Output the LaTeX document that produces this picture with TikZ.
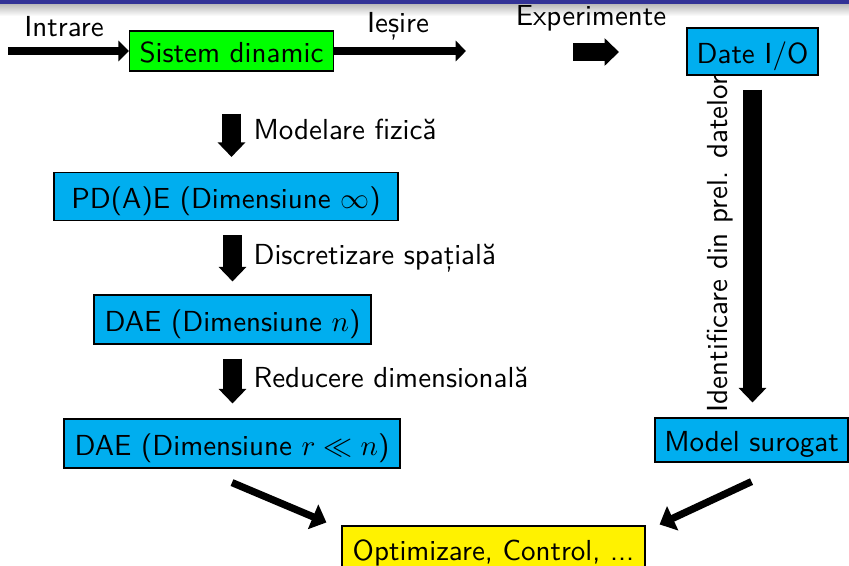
\documentclass[tikz,border=0pt]{standalone}
\usepackage{fontspec}
\usetikzlibrary{arrows.meta,calc}

\definecolor{slidebar}{RGB}{50,50,150}
\definecolor{boxgreen}{RGB}{0,255,0}
\definecolor{boxcyan}{RGB}{0,174,239}
\definecolor{boxyellow}{RGB}{255,242,0}
\newcommand{\pxu}{0.345pt}

\tikzstyle{stage}=[draw,thin,inner sep=0pt,font=\sffamily,text height=8pt,text depth=0pt]
\tikzstyle{lbl}=[inner sep=0pt,font=\sffamily]
\tikzstyle{fat}=[draw,line width=6.5pt,-{Triangle[width=9.3pt,length=5pt]}]
\tikzstyle{flow}=[draw,line width=2.7pt,-{Triangle[width=7pt,length=3.6pt]}]
\tikzstyle{merge}=[draw,line width=2.5pt,-{Triangle[width=9pt,length=5pt]}]

\begin{document}
\begin{tikzpicture}[x=\pxu, y=-\pxu]
	\useasboundingbox (0,0) rectangle (849,565);
	\fill[slidebar] (0,0) rectangle (849,4);
	\shade[top color=gray!55, bottom color=white] (0,4) rectangle (849,16);

	\node [stage, fill=boxgreen, minimum width=204*\pxu, minimum height=40*\pxu] (sistem) at (231.5,51) {Sistem dinamic};
	\node [stage, fill=boxcyan, minimum width=131*\pxu, minimum height=47*\pxu] (date) at (752.5,51.5) {Date I/O};
	\node [stage, fill=boxcyan, minimum width=344*\pxu, minimum height=48*\pxu] (pde) at (226,196.5) {PD(A)E (Dimensiune $\infty$)};
	\node [stage, fill=boxcyan, minimum width=277*\pxu, minimum height=49*\pxu] (daen) at (232.5,319.5) {DAE (Dimensiune $n$)};
	\node [stage, fill=boxcyan, minimum width=336*\pxu, minimum height=49*\pxu] (daer) at (232,443.5) {DAE (Dimensiune $r \ll n$)};
	\node [stage, fill=boxcyan, minimum width=193*\pxu, minimum height=44*\pxu] (surogat) at (751.5,440) {Model surogat};
	\node [stage, fill=boxyellow, minimum width=303*\pxu, minimum height=46*\pxu] (optim) at (493.5,549) {Optimizare, Control, ...};

	\node [lbl, anchor=base] (intrare) at (64,36) {Intrare};
	\node [lbl, anchor=base] (iesire) at (398,32) {Ieșire};
	\node [lbl, anchor=base] (exper) at (591,25) {Experimente};
	\node [lbl, anchor=base west] (modelare) at (253,139) {Modelare fizică};
	\node [lbl, anchor=base west] (discret) at (253,264) {Discretizare spațială};
	\node [lbl, anchor=base west] (reducere) at (253,387) {Reducere dimensională};
	\node [lbl, rotate=90] (ident) at (720,244) {Identificare din prel. datelor};

	\coordinate (inL) at (8,51);
	\coordinate (outR) at (466,51);
	\coordinate (expL) at (573,52);
	\coordinate (expR) at (619,52);

	\draw[flow] (inL) -- (sistem.west);
	\draw[flow] (sistem.east) -- (outR);
	\draw[fat] (expL) -- (expR);
	\draw[fat, shorten <=14*\pxu, shorten >=15*\pxu] (date.south) -- (date.south |- surogat.north);
	\draw[fat, shorten <=42*\pxu, shorten >=15*\pxu] (sistem.south) -- (sistem.south |- pde.north);
	\draw[fat, shorten <=14*\pxu, shorten >=13*\pxu] (daen.north |- pde.south) -- (daen.north);
	\draw[fat, shorten <=14*\pxu, shorten >=15*\pxu] (daen.south) -- (daen.south |- daer.north);
	\draw[merge] ($(daer.south)+(0,14)$) -- ($(optim.north west)+(-15,-3)$);
	\draw[merge] ($(surogat.south)+(0,19)$) -- ($(optim.north east)+(14,-1)$);
\end{tikzpicture}
\end{document}
